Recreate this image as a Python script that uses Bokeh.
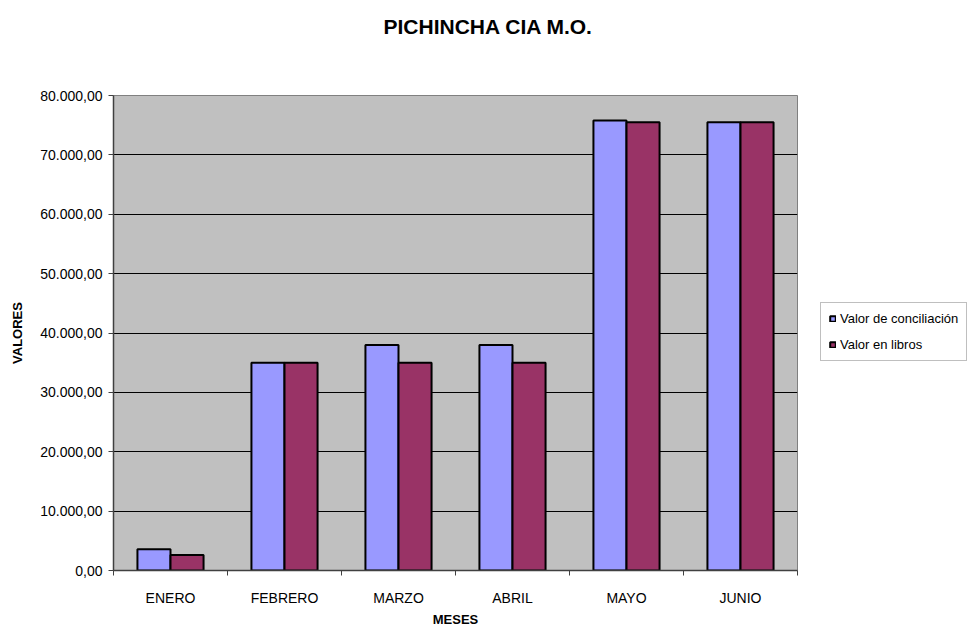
from bokeh.plotting import figure
from bokeh.models import (ColumnDataSource, FixedTicker, Legend, LegendItem, Title)
from bokeh.transform import dodge
from bokeh.embed import file_html
from bokeh.resources import INLINE

# ---- data ----
meses = ["ENERO", "FEBRERO", "MARZO", "ABRIL", "MAYO", "JUNIO"]
conciliacion = [3600, 35000, 38000, 38000, 75800, 75500]
libros = [2600, 35000, 35000, 35000, 75500, 75500]
y_ticks = [0, 10000, 20000, 30000, 40000, 50000, 60000, 70000, 80000]
y_tick_labels = ["0,00", "10.000,00", "20.000,00", "30.000,00", "40.000,00",
                 "50.000,00", "60.000,00", "70.000,00", "80.000,00"]
series_names = ["Valor de conciliación", "Valor en libros"]
title_text = "PICHINCHA CIA M.O."

FONT = "Liberation Sans"

centers = [i + 0.5 for i in range(len(meses))]
bounds = list(range(len(meses) + 1))
src = ColumnDataSource(dict(x=centers, c=conciliacion, l=libros, m=meses))

p = figure(frame_width=684, frame_height=475,
           x_range=(0, len(meses)), y_range=(0, 80000),
           output_backend="svg", toolbar_location=None,
           min_border_left=113, min_border_right=172,
           min_border_top=95, min_border_bottom=56)

p.background_fill_color = "#C0C0C0"
p.border_fill_color = "white"
p.outline_line_color = "#808080"
p.outline_line_width = 1

bw = 0.29
r1 = p.vbar(x=dodge("x", -bw / 2), top="c", width=bw, source=src,
            fill_color="#9999FF", line_color="black", line_width=2)
r2 = p.vbar(x=dodge("x", bw / 2), top="l", width=bw, source=src,
            fill_color="#993366", line_color="black", line_width=2)

# grid
p.xgrid.grid_line_color = None
p.ygrid.ticker = FixedTicker(ticks=y_ticks)
p.ygrid.grid_line_color = "black"
p.ygrid.grid_line_width = 1

# y axis
ya = p.yaxis[0]
ya.ticker = FixedTicker(ticks=y_ticks)
ya.major_label_overrides = {t: s for t, s in zip(y_ticks, y_tick_labels)}
ya.major_label_text_font = FONT
ya.major_label_text_font_size = "14px"
ya.major_label_text_color = "black"
ya.major_tick_out = 5
ya.major_tick_in = 0
ya.minor_tick_line_color = None
ya.major_label_standoff = 6
ya.axis_line_color = "#404040"
ya.axis_line_width = 1.5
ya.major_tick_line_color = "#404040"
ya.axis_label = "VALORES"
ya.axis_label_text_font = FONT
ya.axis_label_text_font_size = "13px"
ya.axis_label_text_font_style = "bold"
ya.axis_label_text_color = "black"
ya.axis_label_standoff = 12

# x axis
xa = p.xaxis[0]
xa.ticker = FixedTicker(ticks=centers, minor_ticks=bounds)
xa.major_label_overrides = {c: m for c, m in zip(centers, meses)}
xa.major_label_text_font = FONT
xa.major_label_text_font_size = "14px"
xa.major_label_text_color = "black"
xa.major_tick_line_color = None
xa.major_tick_out = 0
xa.major_tick_in = 0
xa.minor_tick_out = 5
xa.minor_tick_in = 0
xa.minor_tick_line_color = "#404040"
xa.major_label_standoff = 14
xa.axis_line_color = "#404040"
xa.axis_line_width = 1.5
xa.axis_label = "MESES"
xa.axis_label_text_font = FONT
xa.axis_label_text_font_size = "13px"
xa.axis_label_text_font_style = "bold"
xa.axis_label_text_color = "black"
xa.axis_label_standoff = 3

# legend (right panel)
legend = Legend(items=[LegendItem(label=series_names[0], renderers=[r1]),
                       LegendItem(label=series_names[1], renderers=[r2])],
                location=(23, 209), orientation="vertical",
                padding=8, spacing=11, margin=0,
                glyph_width=7, glyph_height=7, label_height=14,
                label_standoff=4,
                label_text_font=FONT, label_text_font_size="13px",
                label_text_color="black",
                border_line_color="#808080", border_line_width=1,
                background_fill_color="white", background_fill_alpha=1)
p.add_layout(legend, "right")

# titles: main title outermost, spacer title nearest the frame
p.title.text = title_text
p.title.align = "left"
p.title.offset = 270
p.title.text_font = FONT
p.title.text_font_size = "21px"
p.title.text_font_style = "bold"
p.title.text_color = "black"
p.add_layout(Title(text=" ", text_font_size="36px"), "above")

open("out.html", "w").write(file_html(p, INLINE))
